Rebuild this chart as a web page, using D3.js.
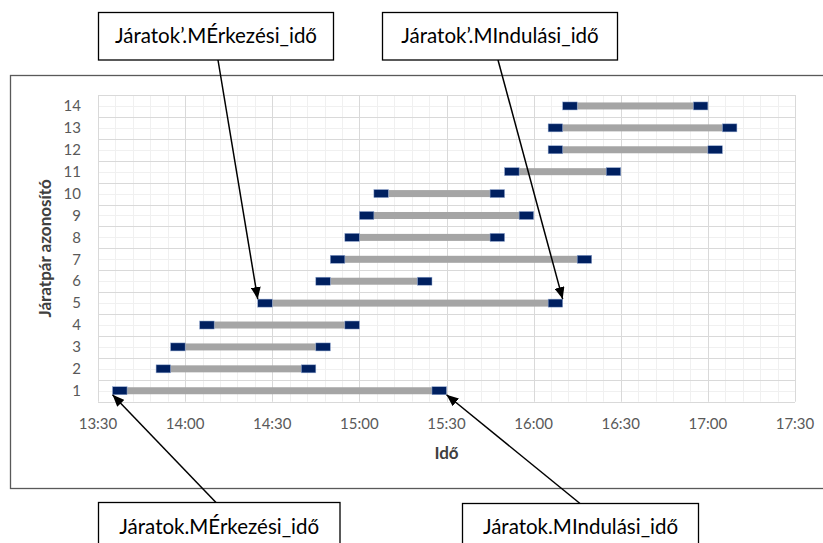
<!DOCTYPE html>
<html><head><meta charset="utf-8">
<script src="https://cdn.jsdelivr.net/npm/d3@7/dist/d3.min.js"></script>
<style>
html,body{margin:0;padding:0;background:#fff;}
svg{display:block;}
text{font-family:Lato,"Open Sans",sans-serif;}
</style></head>
<body>
<svg id="c" width="823" height="543"></svg>
<script>
// ---- data ----
const pairIds = [1,2,3,4,5,6,7,8,9,10,11,12,13,14];
const arrivalTimes = ["13:35","13:50","13:55","14:05","14:25","14:45","14:50","14:55","15:00","15:05","15:50","16:05","16:05","16:10"];
const departureTimes = ["15:30","14:45","14:50","15:00","16:10","15:25","16:20","15:50","16:00","15:50","16:30","17:05","17:10","17:00"];
const capMinutes = 5;
const tickLabels = ["13:30","14:00","14:30","15:00","15:30","16:00","16:30","17:00","17:30"];
const yTitle = "Járatpár azonosító";
const xTitle = "Idő";
const calloutTexts = ["Járatok’.MÉrkezési_idő","Járatok’.MIndulási_idő","Járatok.MÉrkezési_idő","Járatok.MIndulási_idő"];

const toMin = s => { const [h,m] = s.split(":").map(Number); return h*60+m; };
const fmt = v => Math.floor(v/60) + ":" + String(v%60).padStart(2,"0");

const svg = d3.select("#c");
const L = 98, R = 795, T = 95, B = 401.7;

const x = d3.scaleLinear().domain([toMin(tickLabels[0]), toMin(tickLabels[tickLabels.length-1])]).range([L, R]);
const y = d3.scaleBand().domain(pairIds.slice().reverse()).range([T, B]).padding(0);

// outer frame
svg.append("rect").attr("x",10.5).attr("y",75.5).attr("width",830).attr("height",413)
  .attr("fill","#fff").attr("stroke","#595959").attr("stroke-width",1.3);

const g = svg.append("g");
// minor vertical grid
const minorX = d3.range(x.domain()[0], x.domain()[1]+1, 6);
g.selectAll(".mvx").data(minorX).join("line")
  .attr("x1",d=>Math.round(x(d))+0.5).attr("x2",d=>Math.round(x(d))+0.5).attr("y1",T).attr("y2",B)
  .attr("stroke","#f0f0f0").attr("stroke-width",1);
// minor horizontal grid (row centers)
g.selectAll(".mhy").data(pairIds).join("line")
  .attr("x1",L).attr("x2",R)
  .attr("y1",d=>Math.round(y(d)+y.bandwidth()/2)+0.5).attr("y2",d=>Math.round(y(d)+y.bandwidth()/2)+0.5)
  .attr("stroke","#f0f0f0").attr("stroke-width",1);
// major vertical grid
const majorX = tickLabels.map(toMin);
g.selectAll(".vx").data(majorX).join("line")
  .attr("x1",d=>Math.round(x(d))+0.5).attr("x2",d=>Math.round(x(d))+0.5).attr("y1",T).attr("y2",B)
  .attr("stroke","#d9d9d9").attr("stroke-width",1);
// major horizontal grid (band boundaries)
const bounds = pairIds.map(d=>y(d)).concat([B]);
g.selectAll(".hy").data(bounds).join("line")
  .attr("x1",L).attr("x2",R).attr("y1",d=>Math.round(d)+0.5).attr("y2",d=>Math.round(d)+0.5)
  .attr("stroke","#d9d9d9").attr("stroke-width",1);

// bars
const barH = 8;
const rows = pairIds.map((id,i)=>({id, a:toMin(arrivalTimes[i]), d:toMin(departureTimes[i])}));
const cy = id => y(id) + y.bandwidth()/2;
g.selectAll(".gray").data(rows).join("rect")
  .attr("x",r=>x(r.a+capMinutes)).attr("width",r=>x(r.d-capMinutes)-x(r.a+capMinutes))
  .attr("y",r=>cy(r.id)-barH/2+0.5).attr("height",barH-1).attr("fill","#a5a5a5");
g.selectAll(".capA").data(rows).join("rect")
  .attr("x",r=>x(r.a)).attr("width",r=>x(r.a+capMinutes)-x(r.a))
  .attr("y",r=>cy(r.id)-barH/2).attr("height",barH).attr("fill","#002060")
  .attr("stroke","#8fa6cf").attr("stroke-width",0.5);
g.selectAll(".capD").data(rows).join("rect")
  .attr("x",r=>x(r.d-capMinutes)).attr("width",r=>x(r.d)-x(r.d-capMinutes))
  .attr("y",r=>cy(r.id)-barH/2).attr("height",barH).attr("fill","#002060")
  .attr("stroke","#8fa6cf").attr("stroke-width",0.5);

// y axis labels
g.selectAll(".yl").data(pairIds).join("text")
  .attr("x",81).attr("y",d=>cy(d)).attr("dy","0.35em").attr("text-anchor","end")
  .attr("font-size",15).attr("fill","#595959").text(d=>d);
// x axis labels
g.selectAll(".xl").data(tickLabels).join("text")
  .attr("x",d=>x(toMin(d))).attr("y",424).attr("dy","0.35em").attr("text-anchor","middle")
  .attr("font-size",15).attr("fill","#595959").text(d=>fmt(toMin(d)));
// titles
svg.append("text").attr("transform","translate(45,"+((T+B)/2)+") rotate(-90)")
  .attr("text-anchor","middle").attr("dy","0.35em").attr("font-size",17).attr("font-weight","bold")
  .attr("fill","#404040").text(yTitle);
svg.append("text").attr("x",x(toMin("15:30"))).attr("y",453).attr("dy","0.35em")
  .attr("text-anchor","middle").attr("font-size",17).attr("font-weight","bold")
  .attr("fill","#404040").text(xTitle);

// arrowhead marker
svg.append("defs").append("marker").attr("id","ah").attr("viewBox","0 0 12 10")
  .attr("refX",12).attr("refY",5).attr("markerWidth",12).attr("markerHeight",10)
  .attr("markerUnits","userSpaceOnUse").attr("orient","auto")
  .append("path").attr("d","M0,0 L12,5 L0,10 Z").attr("fill","#000");

// callouts
const r1 = rows[0], r5 = rows[4];
const callouts = [
  {text:calloutTexts[0], bx:98.5, by:12.5, bw:235, bh:47.5, sx:218, sy:60, tx:x(r5.a), ty:cy(r5.id)-barH/2},
  {text:calloutTexts[1], bx:382.5, by:12.5, bw:235, bh:47.5, sx:498, sy:60, tx:x(r5.d), ty:cy(r5.id)-barH/2},
  {text:calloutTexts[2], bx:98.5, by:502.5, bw:241.5, bh:60, sx:216, sy:502.5, tx:x(r1.a), ty:cy(r1.id)+barH/2},
  {text:calloutTexts[3], bx:462.5, by:503.5, bw:236, bh:60, sx:580, sy:503.5, tx:x(r1.d), ty:cy(r1.id)+barH/2}
];
callouts.forEach(c=>{
  svg.append("line").attr("x1",c.sx).attr("y1",c.sy).attr("x2",c.tx).attr("y2",c.ty)
    .attr("stroke","#000").attr("stroke-width",1.5).attr("marker-end","url(#ah)");
  svg.append("rect").attr("x",c.bx).attr("y",c.by).attr("width",c.bw).attr("height",c.bh)
    .attr("fill","#fff").attr("stroke","#000").attr("stroke-width",1.3);
  const tyy = c.by < 100 ? 36 : 527;
  svg.append("text").attr("x",c.bx+c.bw/2).attr("y",tyy).attr("dy","0.35em")
    .attr("text-anchor","middle").attr("font-size",20.5).attr("fill","#000").text(c.text);
});
</script>
</body></html>
